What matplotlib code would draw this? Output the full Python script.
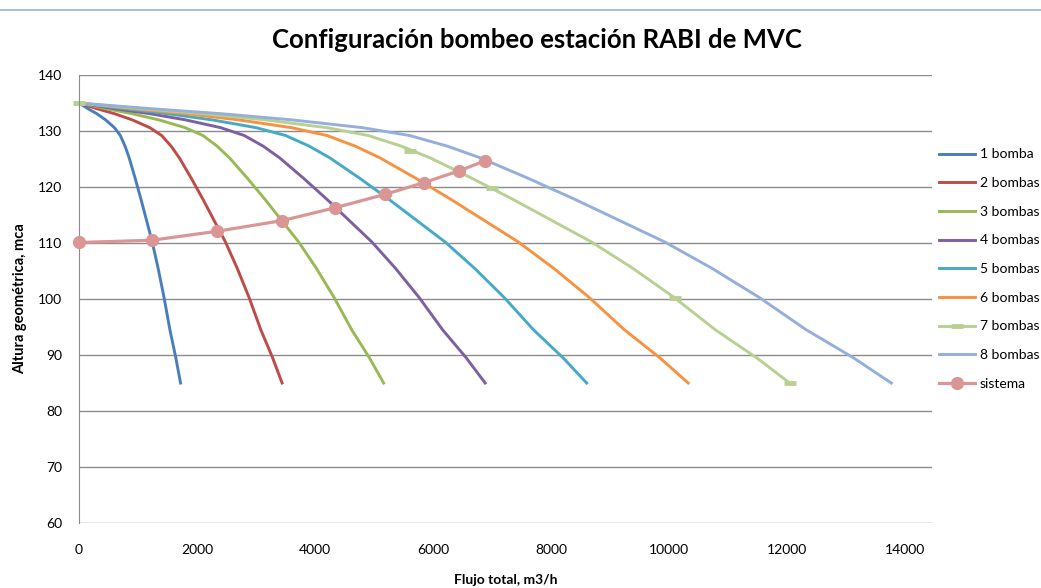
import matplotlib
matplotlib.use("Agg")
import matplotlib.pyplot as plt
from matplotlib.lines import Line2D

# altura común para todas las curvas de bombas (mca)
altura = [135, 134.0, 133.1, 132.0, 130.6, 129.2, 127.3, 125.2, 121.6,
          117.8, 113.8, 110.2, 105.5, 100.3, 94.5, 89.5, 85]

# flujo total (m3/h) para cada configuración
q_1 = [0, 150, 300, 450, 600, 700, 780, 850, 950, 1050, 1150, 1240, 1340, 1440, 1540, 1640, 1720]
q_2 = [0, 300, 600, 900, 1200, 1400, 1560, 1700, 1900, 2100, 2300, 2480, 2680, 2880, 3080, 3280, 3440]
q_3 = [0, 450, 900, 1350, 1800, 2100, 2340, 2550, 2850, 3150, 3450, 3720, 4020, 4320, 4620, 4920, 5160]
q_4 = [0, 600, 1200, 1800, 2400, 2800, 3120, 3400, 3800, 4200, 4600, 4960, 5360, 5760, 6160, 6560, 6880]
q_5 = [0, 750, 1500, 2250, 3000, 3500, 3900, 4250, 4750, 5250, 5750, 6200, 6700, 7200, 7700, 8200, 8600]
q_6 = [0, 900, 1800, 2700, 3600, 4200, 4680, 5100, 5700, 6300, 6900, 7440, 8040, 8640, 9240, 9840, 10320]
q_7 = [0, 1050, 2100, 3150, 4200, 4900, 5460, 5950, 6650, 7350, 8050, 8680, 9380, 10080, 10780, 11480, 12040]
q_8 = [0, 1200, 2400, 3600, 4800, 5600, 6240, 6800, 7600, 8400, 9200, 9920, 10720, 11520, 12320, 13120, 13760]

# marcas visibles de la serie de 7 bombas
q_7_marcas = [0, 5610, 7000, 10100, 12040]
h_7_marcas = [135, 126.4, 119.9, 100.1, 85]

# curva del sistema
q_sistema = [0, 1237, 2339, 3441, 4339, 5186, 5847, 6441, 6881]
h_sistema = [110.1, 110.5, 112.1, 114.0, 116.3, 118.7, 120.8, 122.9, 124.7]

etiquetas = ["1 bomba", "2 bombas", "3 bombas", "4 bombas", "5 bombas",
             "6 bombas", "7 bombas", "8 bombas"]
flujos = [q_1, q_2, q_3, q_4, q_5, q_6, q_7, q_8]
colores = ["#4A7EBB", "#BE4B48", "#98B954", "#7D60A0", "#46AAC5",
           "#F69240", "#B8D092", "#93AFDA"]
color_sistema = "#D99694"

plt.rcParams['font.family'] = ['Lato', 'DejaVu Sans']

fig = plt.figure(figsize=(10.41, 5.88), dpi=100)
ax = fig.add_axes([0.0759, 0.1105, 0.8194, 0.7619])

for q, lab, c in zip(flujos, etiquetas, colores):
    ax.plot(q, altura, color=c, lw=2.1, label=lab, solid_joinstyle='round')

ax.plot(q_7_marcas, h_7_marcas, ls='none', marker='_', ms=8, mew=3.5,
        color=colores[6], clip_on=False, zorder=2.5)

ax.plot(q_sistema, h_sistema, color=color_sistema, lw=2.3, marker='o', ms=8.5,
        label="sistema", clip_on=False, zorder=5)

ax.set_xlim(0, 14450)
ax.set_ylim(60, 140)
ax.set_xticks(range(0, 14001, 2000))
ax.set_yticks(range(60, 141, 10))
ax.yaxis.grid(True, color='#8C8C8C', lw=1.0)
ax.set_axisbelow(True)
for s in ['top', 'right', 'bottom']:
    ax.spines[s].set_visible(False)
ax.spines['left'].set_color('#8C8C8C')
ax.tick_params(axis='both', length=0, labelsize=10, colors='black')
ax.tick_params(axis='x', pad=15)
ax.tick_params(axis='y', pad=12)

ax.set_xlabel("Flujo total, m3/h", fontsize=10, fontweight='bold', labelpad=13)
ax.set_ylabel("Altura geométrica, mca", fontsize=10.5, fontweight='bold', labelpad=8)

fig.suptitle("Configuración bombeo estación RABI de MVC", fontsize=18.5,
             fontweight='bold', x=0.516, y=0.932, va='center')

handles, labels = ax.get_legend_handles_labels()
handles[6] = Line2D([], [], color=colores[6], lw=2.1, marker='_', ms=8, mew=3.5)
fig.legend(handles, labels, loc='upper left', bbox_to_anchor=(0.897, 0.757),
           frameon=False, fontsize=10, handlelength=2.6, handletextpad=0.3,
           labelspacing=1.2, borderaxespad=0)

fig.add_artist(Line2D([0, 1], [0.983, 0.983], color='#A7C0DE', lw=1.5,
                      transform=fig.transFigure))

fig.savefig("out.png", dpi=100)
